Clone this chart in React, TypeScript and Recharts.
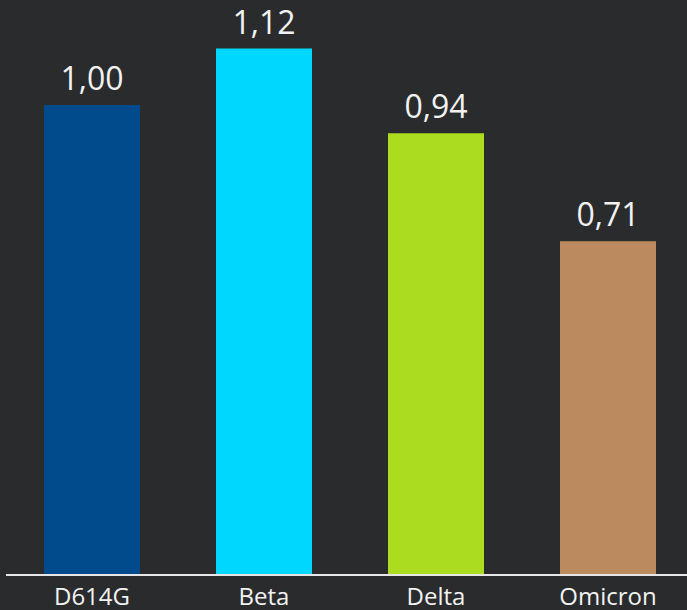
import { BarChart, Bar, XAxis, YAxis, Cell, LabelList } from 'recharts';

const VARIANTS = ['D614G', 'Beta', 'Delta', 'Omicron'];
const RATIOS = [1.0, 1.12, 0.94, 0.71];
const COLORS = ['#014a8b', '#00d7ff', '#acdc20', '#bb8b5f'];

const data = VARIANTS.map((name, i) => ({ name, value: RATIOS[i] }));

const fmt = (v: any) => Number(v).toFixed(2).replace('.', ',');

export default function App() {
  return (
    <div
      style={{
        position: 'absolute',
        left: 0,
        top: 0,
        width: 687,
        height: 610,
        overflow: 'hidden',
        background: '#2a2b2d',
        fontFamily: '"Open Sans", sans-serif',
      }}
    >
      <BarChart width={694} height={610} data={data} margin={{ top: 11, right: 0, bottom: 0, left: 6 }}>
        <YAxis hide domain={[0, 1.2]} />
        <XAxis
          dataKey="name"
          height={35}
          axisLine={{ stroke: '#e6e6e6', strokeWidth: 2 }}
          tickLine={false}
          tickSize={0}
          tickMargin={13}
          interval={0}
          tick={{ fill: '#f2f2f2', fontSize: 24, fontFamily: '"Open Sans", sans-serif' }}
        />
        <Bar dataKey="value" barSize={96} isAnimationActive={false}>
          {data.map((d, i) => (
            <Cell key={d.name} fill={COLORS[i]} />
          ))}
          <LabelList
            dataKey="value"
            position="top"
            offset={15}
            formatter={fmt}
            fill="#f2f2f2"
            fontSize={32}
            fontFamily='"Open Sans", sans-serif'
          />
        </Bar>
      </BarChart>
    </div>
  );
}
